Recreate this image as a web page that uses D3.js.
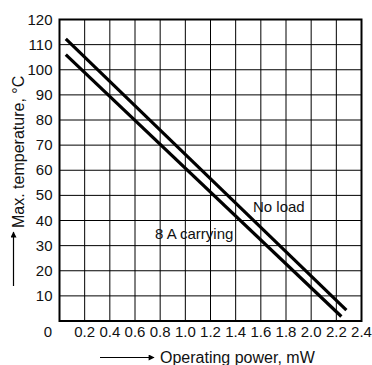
<!DOCTYPE html>
<html>
<head>
<meta charset="utf-8">
<script src="https://cdn.jsdelivr.net/npm/d3@7"></script>
<style>
  body { margin: 0; background: #fff; }
  text { font-family: "Liberation Sans", Arial, sans-serif; fill: #111; }
</style>
</head>
<body>
<div id="chart"></div>
<script>
// data
const xTicks = [0.2, 0.4, 0.6, 0.8, 1.0, 1.2, 1.4, 1.6, 1.8, 2.0, 2.2, 2.4];
const yTicks = [10, 20, 30, 40, 50, 60, 70, 80, 90, 100, 110, 120];
const noLoad = [[0.05, 112.3], [2.28, 4.3]];
const carrying = [[0.05, 106], [2.24, 1.8]];

const width = 372, height = 365;
const margin = { top: 19.5, right: 10.5, bottom: 44, left: 59.5 };

const x = d3.scaleLinear().domain([0, 2.4]).range([margin.left, width - margin.right]);
const y = d3.scaleLinear().domain([0, 120]).range([height - margin.bottom, margin.top]);

const svg = d3.select("#chart").append("svg")
  .attr("width", width).attr("height", height);

// grid
svg.append("g")
  .selectAll("line")
  .data(xTicks.slice(0, -1))
  .join("line")
  .attr("x1", d => x(d)).attr("x2", d => x(d))
  .attr("y1", y(0)).attr("y2", y(120))
  .attr("stroke", "#000").attr("stroke-width", 1);

svg.append("g")
  .selectAll("line")
  .data(yTicks.slice(0, -1))
  .join("line")
  .attr("y1", d => y(d)).attr("y2", d => y(d))
  .attr("x1", x(0)).attr("x2", x(2.4))
  .attr("stroke", "#000").attr("stroke-width", 1);

// frame
svg.append("rect")
  .attr("x", x(0)).attr("y", y(120))
  .attr("width", x(2.4) - x(0)).attr("height", y(0) - y(120))
  .attr("fill", "none").attr("stroke", "#000").attr("stroke-width", 2);

// tick labels
svg.append("g")
  .selectAll("text")
  .data(yTicks)
  .join("text")
  .attr("x", x(0) - 7)
  .attr("y", d => y(d) + 5)
  .attr("text-anchor", "end")
  .attr("font-size", 15)
  .text(d => d);

svg.append("text")
  .attr("x", 48).attr("y", 337)
  .attr("text-anchor", "middle").attr("font-size", 15)
  .text("0");

svg.append("g")
  .selectAll("text")
  .data(xTicks)
  .join("text")
  .attr("x", d => x(d))
  .attr("y", 337)
  .attr("text-anchor", "middle")
  .attr("font-size", 15)
  .text(d => d.toFixed(1));

// curves
const line = d3.line().x(d => x(d[0])).y(d => y(d[1]));
[noLoad, carrying].forEach(s => {
  svg.append("path")
    .attr("d", line(s))
    .attr("fill", "none")
    .attr("stroke", "#000")
    .attr("stroke-width", 3.2);
});

// curve labels
svg.append("text")
  .attr("x", 253).attr("y", 212)
  .attr("font-size", 15)
  .text("No load");

svg.append("text")
  .attr("x", 155).attr("y", 239)
  .attr("font-size", 15)
  .text("8 A carrying");

// arrows
svg.append("defs").append("marker")
  .attr("id", "head")
  .attr("viewBox", "0 0 10 10")
  .attr("refX", 9).attr("refY", 5)
  .attr("markerWidth", 8).attr("markerHeight", 6)
  .attr("markerUnits", "userSpaceOnUse")
  .attr("orient", "auto")
  .append("path").attr("d", "M0,0L10,5L0,10Z").attr("fill", "#000");

svg.append("line")
  .attr("x1", 100).attr("x2", 154)
  .attr("y1", 357.5).attr("y2", 357.5)
  .attr("stroke", "#000").attr("stroke-width", 1.2)
  .attr("marker-end", "url(#head)");

svg.append("line")
  .attr("x1", 13.5).attr("x2", 13.5)
  .attr("y1", 286).attr("y2", 232)
  .attr("stroke", "#000").attr("stroke-width", 1.2)
  .attr("marker-end", "url(#head)");

// axis titles
svg.append("text")
  .attr("x", 160).attr("y", 363)
  .attr("font-size", 16)
  .text("Operating power, mW");

svg.append("text")
  .attr("transform", "translate(24,228) rotate(-90)")
  .attr("font-size", 16)
  .text("Max. temperature, °C");
</script>
</body>
</html>
